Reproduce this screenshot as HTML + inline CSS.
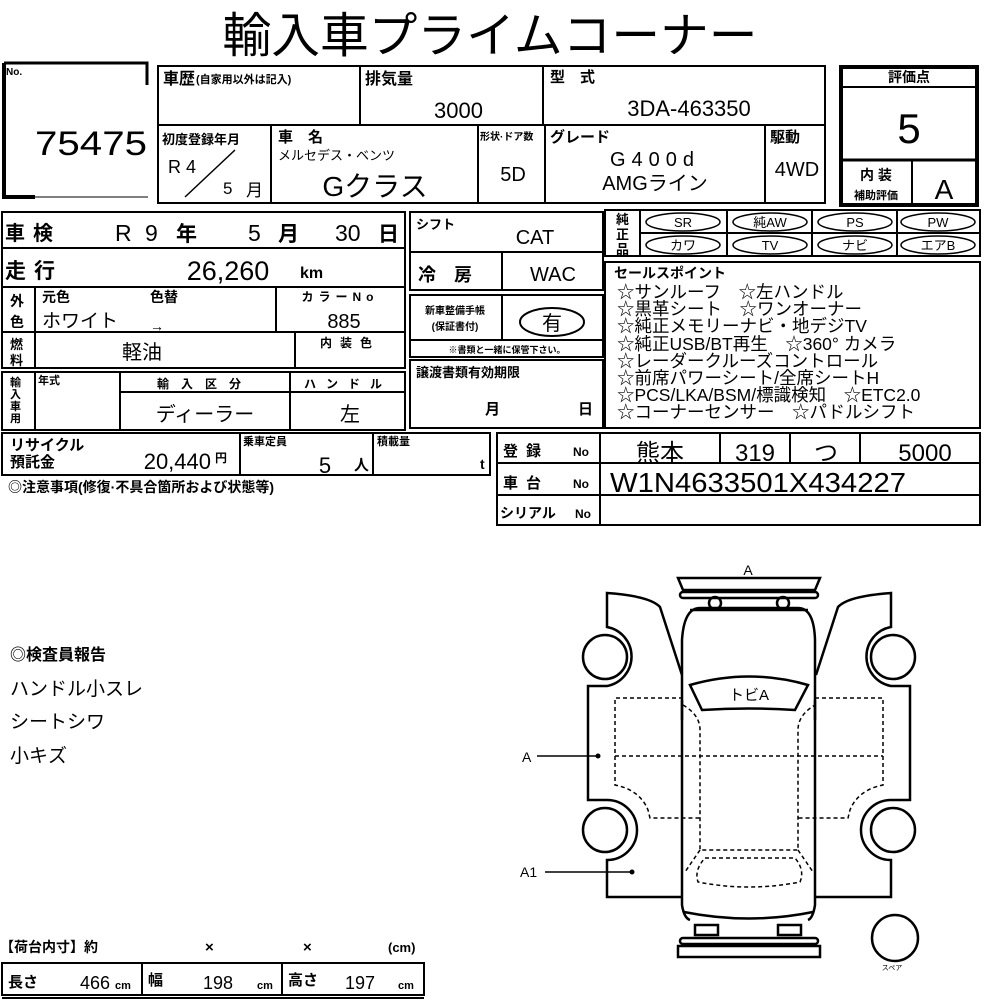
<!DOCTYPE html>
<html><head><meta charset="utf-8"><style>
html,body{margin:0;padding:0;background:#fff;}
svg{display:block;}
text{font-family:"Liberation Sans","Noto Sans CJK JP",sans-serif;fill:#000;}
.b{font-weight:bold;}
</style></head><body>
<svg width="1000" height="1000" viewBox="0 0 1000 1000" xmlns="http://www.w3.org/2000/svg">
<g fill="none" stroke="#000" stroke-width="2">
<path d="M4,63 H147 V85" stroke-width="3"/>
<path d="M4,63 V197 H35" stroke-width="4"/>
<line x1="35" y1="197" x2="148" y2="197" stroke-width="1"/>
<rect x="158" y="66" width="667" height="137"/>
<line x1="158" y1="125" x2="825" y2="125"/>
<line x1="360" y1="66" x2="360" y2="125"/>
<line x1="543" y1="66" x2="543" y2="125"/>
<line x1="271" y1="125" x2="271" y2="203"/>
<line x1="478" y1="125" x2="478" y2="203"/>
<line x1="545" y1="125" x2="545" y2="203"/>
<line x1="765" y1="125" x2="765" y2="203"/>
<rect x="841" y="67" width="136" height="138" stroke-width="4"/>
<line x1="841" y1="87" x2="977" y2="87"/>
<line x1="841" y1="160" x2="977" y2="160" stroke-width="3"/>
<line x1="912" y1="160" x2="912" y2="205"/>
<rect x="2" y="212" width="403" height="156"/>
<line x1="2" y1="248" x2="405" y2="248"/>
<line x1="2" y1="287" x2="405" y2="287"/>
<line x1="2" y1="332" x2="405" y2="332"/>
<line x1="35" y1="287" x2="35" y2="368"/>
<line x1="276" y1="287" x2="276" y2="332"/>
<line x1="295" y1="332" x2="295" y2="368"/>
<rect x="2" y="372" width="403" height="58"/>
<line x1="35" y1="372" x2="35" y2="430"/>
<line x1="120" y1="372" x2="120" y2="430"/>
<line x1="290" y1="372" x2="290" y2="430"/>
<line x1="120" y1="392" x2="405" y2="392"/>
<rect x="410" y="212" width="193" height="78"/>
<line x1="410" y1="252" x2="603" y2="252"/>
<line x1="502" y1="252" x2="502" y2="290"/>
<rect x="410" y="295" width="193" height="62"/>
<line x1="410" y1="340" x2="603" y2="340"/>
<line x1="502" y1="295" x2="502" y2="340"/>
<ellipse cx="552" cy="322" rx="32" ry="14"/>
<rect x="410" y="360" width="193" height="68"/>
<rect x="605" y="210" width="375" height="46"/>
<line x1="640" y1="233" x2="980" y2="233"/>
<line x1="640" y1="210" x2="640" y2="256"/>
<line x1="727" y1="210" x2="727" y2="256"/>
<line x1="812" y1="210" x2="812" y2="256"/>
<line x1="897" y1="210" x2="897" y2="256"/>
<g stroke-width="1.5">
<ellipse cx="683" cy="222" rx="37" ry="9"/><ellipse cx="770" cy="222" rx="37" ry="9"/><ellipse cx="855" cy="222" rx="37" ry="9"/><ellipse cx="938" cy="222" rx="37" ry="9"/>
<ellipse cx="683" cy="245" rx="37" ry="9"/><ellipse cx="770" cy="245" rx="37" ry="9"/><ellipse cx="855" cy="245" rx="37" ry="9"/><ellipse cx="938" cy="245" rx="37" ry="9"/>
</g>
<rect x="605" y="262" width="375" height="166"/>
<rect x="2" y="433" width="488" height="42"/>
<line x1="240" y1="433" x2="240" y2="475"/>
<line x1="373" y1="433" x2="373" y2="475"/>
<rect x="497" y="433" width="483" height="92"/>
<line x1="497" y1="463" x2="980" y2="463"/>
<line x1="497" y1="495" x2="980" y2="495"/>
<line x1="600" y1="433" x2="600" y2="525"/>
<line x1="720" y1="433" x2="720" y2="463"/>
<line x1="790" y1="433" x2="790" y2="463"/>
<line x1="860" y1="433" x2="860" y2="463"/>
<rect x="2" y="963" width="422" height="32"/>
<line x1="142" y1="963" x2="142" y2="995"/>
<line x1="282" y1="963" x2="282" y2="995"/>
<line x1="2" y1="998" x2="424" y2="998"/>
<line x1="185" y1="197" x2="235" y2="150" stroke-width="1.5"/>

<g stroke-width="2.5">
<polygon points="678,578 820,578 815,590 683,590"/>
<rect x="680" y="592" width="138" height="6" rx="3"/>
<circle cx="715" cy="603" r="6"/><circle cx="783" cy="603" r="6"/>
<path d="M682,720 L682,640 Q684,608 700,608 L798,608 Q814,608 815,640 L815,720"/>
<line x1="690" y1="610" x2="808" y2="610"/>
<path d="M682,700 L682,905 Q684,918 690,920 M815,700 L815,905 Q813,918 808,920"/>
<path d="M684,912 Q749,925 813,912"/>
<rect x="695" y="925" width="23" height="10"/><rect x="778" y="925" width="23" height="10"/>
<rect x="680" y="938" width="138" height="6" rx="3"/>
<polygon points="678,946 820,946 820,957 678,957"/>
<path d="M690,685 Q749,668 808,685 L795,710 Q749,707 702,710 Z"/>
<g id="door">
<path d="M682,675 L660,607 Q650,596 607,593 L607,627 A30,30 0 0,1 607,686 L588,686 L588,800 L607,800 A30,30 0 0,1 607,860 L607,897 L682,897"/>
<circle cx="605" cy="657" r="22"/>
<circle cx="605" cy="830" r="22"/>
</g>
<use href="#door" transform="translate(1498,0) scale(-1,1)"/>
<circle cx="895" cy="938" r="23"/>
</g>
<g stroke-width="1.5" stroke-dasharray="4,3">
<path d="M683,698 L615,698 L615,785 Q640,790 648,810 L650,818 L700,818"/>
<path d="M815,698 L883,698 L883,785 Q858,790 850,810 L848,818 L798,818"/>
<line x1="615" y1="756" x2="883" y2="756"/>
<path d="M683,705 Q700,715 700,730 L700,850 L798,850 L798,730 Q798,715 815,705"/>
<path d="M700,850 L685,872 M798,850 L813,872"/>
<path d="M705,858 L795,858 Q805,870 800,882 Q749,892 698,882 Q694,870 705,858 Z"/>
</g>
<g stroke-width="1.5">
<line x1="537" y1="756" x2="598" y2="756"/>
<line x1="545" y1="872" x2="632" y2="872"/>
</g>
</g>
<circle cx="598" cy="756" r="2.5"/>
<circle cx="632" cy="872" r="2.5"/>

<text x="490" y="52" font-size="48" text-anchor="middle" textLength="535" lengthAdjust="spacingAndGlyphs">輸入車プライムコーナー</text>
<text x="6" y="75" font-size="10" class="b">No.</text>
<text x="35" y="155" font-size="34" textLength="112" lengthAdjust="spacingAndGlyphs">75475</text>

<text x="163" y="84" font-size="16" class="b">車歴</text>
<text x="196" y="83" font-size="11" class="b">(自家用以外は記入)</text>
<text x="365" y="84" font-size="16" class="b">排気量</text>
<text x="483" y="118" font-size="22" text-anchor="end">3000</text>
<text x="550" y="82" font-size="15" class="b">型　式</text>
<text x="689" y="116" font-size="22" text-anchor="middle">3DA-463350</text>
<text x="162" y="144" font-size="13" class="b">初度登録年月</text>
<text x="168" y="173" font-size="18">R 4</text>
<text x="223" y="194" font-size="17">5</text>
<text x="246" y="196" font-size="17">月</text>
<text x="278" y="142" font-size="15" class="b">車　名</text>
<text x="278" y="160" font-size="13">メルセデス・ベンツ</text>
<text x="375" y="196" font-size="28" text-anchor="middle">Gクラス</text>
<text x="480" y="140" font-size="10" class="b">形状·ドア数</text>
<text x="513" y="181" font-size="20" text-anchor="middle">5D</text>
<text x="550" y="142" font-size="15" class="b">グレード</text>
<text x="655" y="166" font-size="20" text-anchor="middle" letter-spacing="6">G400d</text>
<text x="655" y="190" font-size="20" text-anchor="middle">AMGライン</text>
<text x="770" y="142" font-size="15" class="b">駆動</text>
<text x="797" y="176" font-size="20" text-anchor="middle">4WD</text>

<text x="909" y="82" font-size="14" class="b" text-anchor="middle">評価点</text>
<text x="909" y="143" font-size="42" text-anchor="middle">5</text>
<text x="876" y="180" font-size="14" class="b" text-anchor="middle">内 装</text>
<text x="876" y="199" font-size="11" class="b" text-anchor="middle">補助評価</text>
<text x="944" y="199" font-size="28" text-anchor="middle">A</text>

<text x="5" y="240" font-size="20" class="b" letter-spacing="8">車検</text>
<text x="115" y="241" font-size="23">R</text>
<text x="145" y="241" font-size="23">9</text>
<text x="176" y="241" font-size="21" class="b">年</text>
<text x="248" y="241" font-size="23">5</text>
<text x="278" y="241" font-size="21" class="b">月</text>
<text x="335" y="241" font-size="23">30</text>
<text x="378" y="241" font-size="21" class="b">日</text>
<text x="5" y="278" font-size="21" class="b" letter-spacing="8">走行</text>
<text x="228" y="280" font-size="27" text-anchor="middle">26,260</text>
<text x="300" y="278" font-size="16" class="b">km</text>
<text x="10" y="306" font-size="14" class="b">外</text>
<text x="10" y="327" font-size="14" class="b">色</text>
<text x="42" y="302" font-size="14" class="b">元色</text>
<text x="150" y="302" font-size="14" class="b">色替</text>
<text x="42" y="327" font-size="19">ホワイト</text>
<text x="150" y="331" font-size="14">→</text>
<text x="340" y="301" font-size="12" class="b" text-anchor="middle" letter-spacing="5">カラーNo</text>
<text x="344" y="328" font-size="20" text-anchor="middle">885</text>
<text x="10" y="349" font-size="13" class="b">燃</text>
<text x="10" y="365" font-size="13" class="b">料</text>
<text x="122" y="359" font-size="20">軽油</text>
<text x="350" y="347" font-size="12" class="b" text-anchor="middle" letter-spacing="8">内装色</text>
<text x="10" y="386" font-size="11" class="b">輸</text>
<text x="10" y="398" font-size="11" class="b">入</text>
<text x="10" y="410" font-size="11" class="b">車</text>
<text x="10" y="422" font-size="11" class="b">用</text>
<text x="38" y="384" font-size="11" class="b">年式</text>
<text x="205" y="388" font-size="12" class="b" text-anchor="middle" letter-spacing="12">輸入区分</text>
<text x="348" y="388" font-size="12" class="b" text-anchor="middle" letter-spacing="10">ハンドル</text>
<text x="205" y="421" font-size="20" text-anchor="middle">ディーラー</text>
<text x="350" y="421" font-size="20" text-anchor="middle">左</text>

<text x="416" y="229" font-size="13" class="b">シフト</text>
<text x="535" y="244" font-size="20" text-anchor="middle">CAT</text>
<text x="418" y="281" font-size="18" class="b" letter-spacing="18">冷房</text>
<text x="553" y="281" font-size="20" text-anchor="middle">WAC</text>
<text x="455" y="314" font-size="10" class="b" text-anchor="middle">新車整備手帳</text>
<text x="455" y="330" font-size="10" class="b" text-anchor="middle">(保証書付)</text>
<text x="552" y="330" font-size="20" text-anchor="middle">有</text>
<text x="507" y="353" font-size="9" class="b" text-anchor="middle">※書類と一緒に保管下さい。</text>
<text x="416" y="377" font-size="13" class="b">譲渡書類有効期限</text>
<text x="485" y="414" font-size="15" class="b">月</text>
<text x="578" y="414" font-size="15" class="b">日</text>

<text x="616" y="224" font-size="13" class="b">純</text>
<text x="616" y="239" font-size="13" class="b">正</text>
<text x="616" y="254" font-size="13" class="b">品</text>
<g font-size="13" text-anchor="middle">
<text x="683" y="227">SR</text><text x="770" y="227">純AW</text><text x="855" y="227">PS</text><text x="938" y="227">PW</text>
<text x="683" y="250">カワ</text><text x="770" y="250">TV</text><text x="855" y="250">ナビ</text><text x="938" y="250">エアB</text>
</g>
<text x="614" y="278" font-size="14" class="b">セールスポイント</text>
<g font-size="17.5">
<text x="617" y="298">☆サンルーフ　☆左ハンドル</text>
<text x="617" y="315">☆黒革シート　☆ワンオーナー</text>
<text x="617" y="332">☆純正メモリーナビ・地デジTV</text>
<text x="617" y="350">☆純正USB/BT再生　☆360° カメラ</text>
<text x="617" y="367">☆レーダークルーズコントロール</text>
<text x="617" y="384">☆前席パワーシート/全席シートH</text>
<text x="617" y="401">☆PCS/LKA/BSM/標識検知　☆ETC2.0</text>
<text x="617" y="418">☆コーナーセンサー　☆パドルシフト</text>
</g>

<text x="10" y="450" font-size="15" class="b">リサイクル</text>
<text x="10" y="467" font-size="15" class="b">預託金</text>
<text x="211" y="469" font-size="22" text-anchor="end">20,440</text>
<text x="215" y="462" font-size="12" class="b">円</text>
<text x="243" y="445" font-size="11" class="b">乗車定員</text>
<text x="325" y="473" font-size="22" text-anchor="middle">5</text>
<text x="354" y="470" font-size="15" class="b">人</text>
<text x="377" y="445" font-size="11" class="b">積載量</text>
<text x="480" y="469" font-size="14" class="b">t</text>
<text x="8" y="492" font-size="14" class="b">◎注意事項(修復·不具合箇所および状態等)</text>

<text x="503" y="456" font-size="15" class="b" letter-spacing="8">登録</text>
<text x="573" y="456" font-size="12" class="b">No</text>
<text x="503" y="488" font-size="15" class="b" letter-spacing="8">車台</text>
<text x="573" y="488" font-size="12" class="b">No</text>
<text x="500" y="518" font-size="14" class="b">シリアル</text>
<text x="575" y="518" font-size="12" class="b">No</text>
<text x="660" y="461" font-size="24" text-anchor="middle">熊本</text>
<text x="755" y="461" font-size="24" text-anchor="middle">319</text>
<text x="826" y="461" font-size="24" text-anchor="middle">つ</text>
<text x="925" y="461" font-size="24" text-anchor="middle">5000</text>
<text x="610" y="492" font-size="28" textLength="296" lengthAdjust="spacingAndGlyphs">W1N4633501X434227</text>

<text x="10" y="660" font-size="16" class="b">◎検査員報告</text>
<text x="10" y="695" font-size="19">ハンドル小スレ</text>
<text x="10" y="728" font-size="19">シートシワ</text>
<text x="10" y="762" font-size="19">小キズ</text>

<text x="0" y="952" font-size="14" class="b">【荷台内寸】約</text>
<text x="205" y="952" font-size="15" class="b">×</text>
<text x="303" y="952" font-size="15" class="b">×</text>
<text x="388" y="952" font-size="13" class="b">(cm)</text>
<text x="8" y="987" font-size="15" class="b">長さ</text>
<text x="80" y="989" font-size="18">466</text>
<text x="115" y="989" font-size="11" class="b">cm</text>
<text x="148" y="985" font-size="15" class="b">幅</text>
<text x="203" y="989" font-size="18">198</text>
<text x="257" y="989" font-size="11" class="b">cm</text>
<text x="288" y="985" font-size="15" class="b">高さ</text>
<text x="345" y="989" font-size="18">197</text>
<text x="398" y="989" font-size="11" class="b">cm</text>

<text x="748" y="575" font-size="14" text-anchor="middle">A</text>
<text x="749" y="700" font-size="15" text-anchor="middle">トビA</text>
<text x="522" y="762" font-size="14">A</text>
<text x="520" y="877" font-size="14">A1</text>
<text x="892" y="970" font-size="7" text-anchor="middle">スペア</text>
</svg>
</body></html>
